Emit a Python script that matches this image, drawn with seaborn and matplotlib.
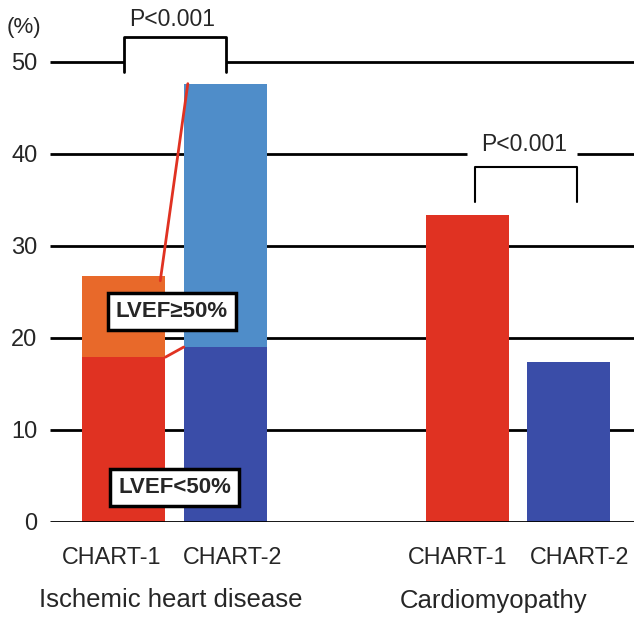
import numpy as np
import pandas as pd
import seaborn as sns
import matplotlib
matplotlib.use('Agg')
import matplotlib.pyplot as plt

# Data
bar_pos = [0.0, 1.0, 3.37, 4.36]
label_pos = [-0.12, 1.07, 3.27, 4.47]         # tick labels sit a bit apart
bar_labels = ['CHART-1', 'CHART-2', 'CHART-1', 'CHART-2']
groups = ['Ischemic heart disease', 'Cardiomyopathy']
total_pct = [26.7, 47.6, 33.3, 17.4]          # full bar height
lower_pct = [17.9, 19.0]                      # LVEF<50% part (ischemic only)
top_colors = ['#E8692A', '#4F8DC9', '#E03222', '#3A4DA8']
low_colors = ['#E03222', '#3A4DA8']
yticks = [0, 10, 20, 30, 40, 50]

sns.set_theme(style='white')
plt.rcParams['font.family'] = ['Liberation Sans', 'DejaVu Sans']

fig = plt.figure(figsize=(6.34, 6.22), dpi=100)
ax = fig.add_axes([50 / 634, 100 / 622, 584 / 634, 512 / 622])

df_top = pd.DataFrame({'x': bar_pos, 'y': total_pct, 'k': list('abcd')})
df_low = pd.DataFrame({'x': bar_pos[:2], 'y': lower_pct, 'k': list('ab')})

bar_kw = dict(native_scale=True, width=0.82, dodge=False, saturation=1,
              legend=False, ax=ax, zorder=2, linewidth=0, edgecolor='none')
sns.barplot(data=df_top, x='x', y='y', hue='k', palette=top_colors, **bar_kw)
sns.barplot(data=df_low, x='x', y='y', hue='k', palette=low_colors, **bar_kw)

ax.set_xlim(-0.72, 5.0)
ax.set_ylim(0, 55.6)
for s in ax.spines.values():
    s.set_visible(False)

# gridlines, with gaps where the significance brackets sit
xl, xr = ax.get_xlim()
for v in yticks:
    if v == 50:
        segs = [(xl, bar_pos[0]), (bar_pos[1], xr)]
    elif v == 40:
        segs = [(xl, 3.36), (4.44, xr)]
    else:
        segs = [(xl, xr)]
    for a, b in segs:
        ax.plot([a, b], [v, v], color='black', lw=2, zorder=1 if v else 3,
                solid_capstyle='butt')

ax.set_yticks(yticks)
ax.set_yticklabels([str(v) for v in yticks], fontsize=17)
ax.tick_params(axis='y', length=0, pad=9)
ax.set_xticks(label_pos)
ax.set_xticklabels(bar_labels, fontsize=16.8)
ax.tick_params(axis='x', length=0, pad=17)
ax.set_xlabel('')
ax.set_ylabel('')
fig.text(7 / 634, 1 - 28 / 622, '(%)', fontsize=16, ha='left', va='center')

# group labels
ax.text(0.46, -0.152, groups[0], transform=ax.get_xaxis_transform(),
        ha='center', va='center', fontsize=18.5)
ax.text(3.62, -0.155, groups[1], transform=ax.get_xaxis_transform(),
        ha='center', va='center', fontsize=18.5)

# red connector lines between stacked bars
ax.plot([0.36, 0.63], [26.2, 47.6], color='#E03222', lw=2, zorder=4)
ax.plot([0.41, 0.59], [17.9, 19.0], color='#E03222', lw=2, zorder=4)

# significance brackets
ax.plot([bar_pos[0], bar_pos[0], bar_pos[1], bar_pos[1]],
        [48.9, 52.7, 52.7, 48.9], color='black', lw=2, clip_on=False, zorder=5)
ax.text(0.48, 54.55, 'P<0.001', ha='center', va='center', fontsize=16.5)
ax.plot([3.44, 3.44, 4.44, 4.44], [34.7, 38.6, 38.6, 34.7],
        color='black', lw=1.5, zorder=5)
ax.text(3.92, 41.0, 'P<0.001', ha='center', va='center', fontsize=16.5)

# LVEF boxes
box = dict(boxstyle='square,pad=0.36', fc='white', ec='black', lw=2.5)
ax.text(0.475, 22.9, 'LVEF\u226550%', ha='center', va='center', fontsize=16,
        fontweight='bold', bbox=box, zorder=6)
ax.text(0.5, 3.7, 'LVEF<50%', ha='center', va='center', fontsize=16,
        fontweight='bold', bbox=box, zorder=6)

plt.savefig('out.png', dpi=100)
plt.close()
